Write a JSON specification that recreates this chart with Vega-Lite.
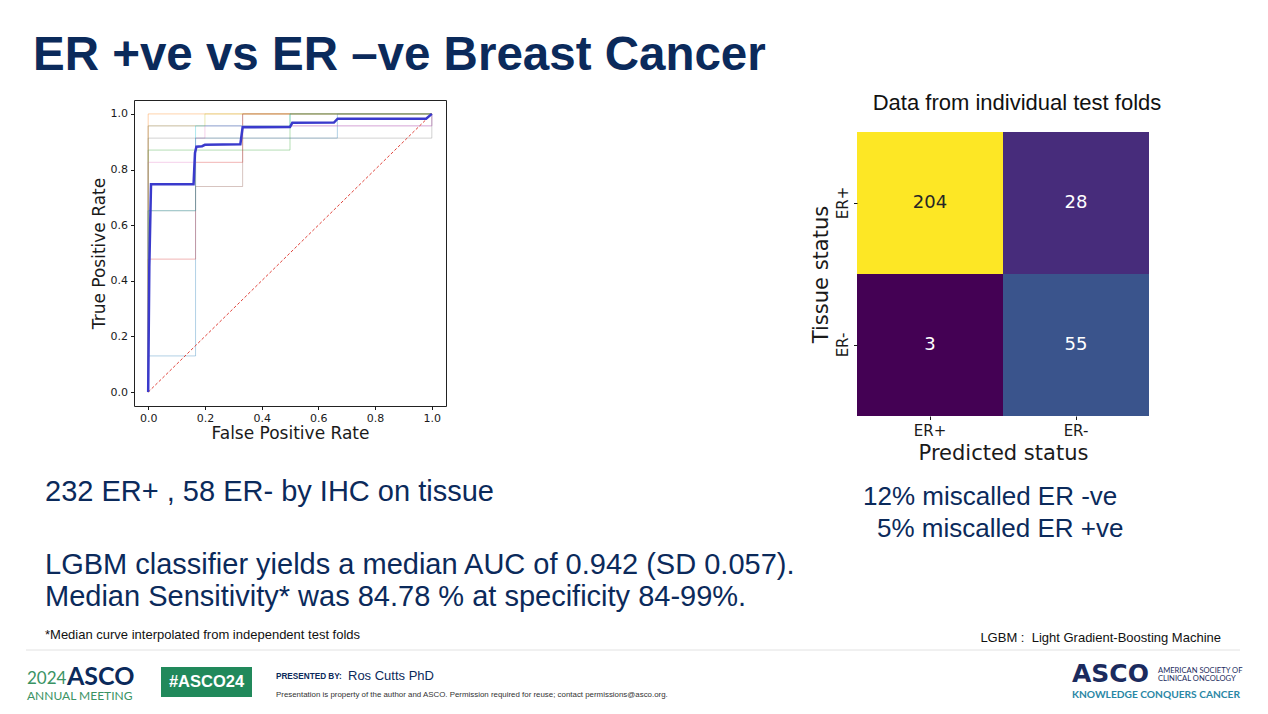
{
  "$schema": "https://vega.github.io/schema/vega-lite/v6.json",
  "padding": {"left": 25, "top": 32, "right": 0, "bottom": 0},
  "background": "white",
  "bounds": "full",
  "spacing": 0,
  "config": {
    "view": {"stroke": null},
    "font": "Liberation Sans",
    "axis": {"labelFont": "DejaVu Sans", "titleFont": "DejaVu Sans", "titleFontWeight": "normal", "labelColor": "#1a1a1a", "titleColor": "#1a1a1a", "tickColor": "#1a1a1a", "grid": false, "domain": false, "tickSize": 3.5, "labelFlush": false, "labelOverlap": false}
  },
  "datasets": {
    "folds": [
      {"fold": 1, "i": 0, "fpr": 0, "tpr": 0}, {"fold": 1, "i": 1, "fpr": 0, "tpr": 0.130}, {"fold": 1, "i": 2, "fpr": 0.167, "tpr": 0.130}, {"fold": 1, "i": 3, "fpr": 0.167, "tpr": 0.913}, {"fold": 1, "i": 4, "fpr": 0.667, "tpr": 0.913}, {"fold": 1, "i": 5, "fpr": 0.667, "tpr": 1}, {"fold": 1, "i": 6, "fpr": 1, "tpr": 1},
      {"fold": 2, "i": 0, "fpr": 0, "tpr": 0}, {"fold": 2, "i": 1, "fpr": 0, "tpr": 1}, {"fold": 2, "i": 2, "fpr": 1, "tpr": 1},
      {"fold": 3, "i": 0, "fpr": 0, "tpr": 0}, {"fold": 3, "i": 1, "fpr": 0, "tpr": 0.870}, {"fold": 3, "i": 2, "fpr": 0.5, "tpr": 0.870}, {"fold": 3, "i": 3, "fpr": 0.5, "tpr": 1}, {"fold": 3, "i": 4, "fpr": 1, "tpr": 1},
      {"fold": 4, "i": 0, "fpr": 0, "tpr": 0}, {"fold": 4, "i": 1, "fpr": 0, "tpr": 0.478}, {"fold": 4, "i": 2, "fpr": 0.167, "tpr": 0.478}, {"fold": 4, "i": 3, "fpr": 0.167, "tpr": 0.826}, {"fold": 4, "i": 4, "fpr": 0.333, "tpr": 0.826}, {"fold": 4, "i": 5, "fpr": 0.333, "tpr": 1}, {"fold": 4, "i": 6, "fpr": 1, "tpr": 1},
      {"fold": 5, "i": 0, "fpr": 0, "tpr": 0}, {"fold": 5, "i": 1, "fpr": 0, "tpr": 0.957}, {"fold": 5, "i": 2, "fpr": 1, "tpr": 0.957}, {"fold": 5, "i": 3, "fpr": 1, "tpr": 1},
      {"fold": 6, "i": 0, "fpr": 0, "tpr": 0}, {"fold": 6, "i": 1, "fpr": 0, "tpr": 0.652}, {"fold": 6, "i": 2, "fpr": 0.167, "tpr": 0.652}, {"fold": 6, "i": 3, "fpr": 0.167, "tpr": 0.739}, {"fold": 6, "i": 4, "fpr": 0.333, "tpr": 0.739}, {"fold": 6, "i": 5, "fpr": 0.333, "tpr": 1}, {"fold": 6, "i": 6, "fpr": 1, "tpr": 1},
      {"fold": 7, "i": 0, "fpr": 0, "tpr": 0}, {"fold": 7, "i": 1, "fpr": 0, "tpr": 0.826}, {"fold": 7, "i": 2, "fpr": 0.167, "tpr": 0.826}, {"fold": 7, "i": 3, "fpr": 0.167, "tpr": 0.913}, {"fold": 7, "i": 4, "fpr": 0.2, "tpr": 0.913}, {"fold": 7, "i": 5, "fpr": 0.2, "tpr": 0.957}, {"fold": 7, "i": 6, "fpr": 1, "tpr": 0.957}, {"fold": 7, "i": 7, "fpr": 1, "tpr": 1},
      {"fold": 8, "i": 0, "fpr": 0, "tpr": 0}, {"fold": 8, "i": 1, "fpr": 0, "tpr": 0.913}, {"fold": 8, "i": 2, "fpr": 1, "tpr": 0.913}, {"fold": 8, "i": 3, "fpr": 1, "tpr": 1},
      {"fold": 9, "i": 0, "fpr": 0, "tpr": 0}, {"fold": 9, "i": 1, "fpr": 0, "tpr": 0.957}, {"fold": 9, "i": 2, "fpr": 0.2, "tpr": 0.957}, {"fold": 9, "i": 3, "fpr": 0.2, "tpr": 1}, {"fold": 9, "i": 4, "fpr": 1, "tpr": 1},
      {"fold": 10, "i": 0, "fpr": 0, "tpr": 0}, {"fold": 10, "i": 1, "fpr": 0, "tpr": 0.652}, {"fold": 10, "i": 2, "fpr": 0.167, "tpr": 0.652}, {"fold": 10, "i": 3, "fpr": 0.167, "tpr": 0.957}, {"fold": 10, "i": 4, "fpr": 0.5, "tpr": 0.957}, {"fold": 10, "i": 5, "fpr": 0.5, "tpr": 1}, {"fold": 10, "i": 6, "fpr": 1, "tpr": 1}
    ],
    "median": [
      {"i": 0, "fpr": 0, "tpr": 0}, {"i": 1, "fpr": 0.004, "tpr": 0.45}, {"i": 2, "fpr": 0.01, "tpr": 0.747}, {"i": 3, "fpr": 0.16, "tpr": 0.747},
      {"i": 4, "fpr": 0.165, "tpr": 0.86}, {"i": 5, "fpr": 0.17, "tpr": 0.882}, {"i": 6, "fpr": 0.19, "tpr": 0.884}, {"i": 7, "fpr": 0.2, "tpr": 0.889},
      {"i": 8, "fpr": 0.325, "tpr": 0.891}, {"i": 9, "fpr": 0.333, "tpr": 0.952}, {"i": 10, "fpr": 0.5, "tpr": 0.953}, {"i": 11, "fpr": 0.508, "tpr": 0.968},
      {"i": 12, "fpr": 0.655, "tpr": 0.969}, {"i": 13, "fpr": 0.668, "tpr": 0.983}, {"i": 14, "fpr": 0.98, "tpr": 0.983}, {"i": 15, "fpr": 1.0, "tpr": 1.0}
    ],
    "chance": [{"fpr": 0, "tpr": 0}, {"fpr": 1, "tpr": 1}],
    "confusion": [
      {"tissue": "ER+", "predicted": "ER+", "n": 204},
      {"tissue": "ER+", "predicted": "ER-", "n": 28},
      {"tissue": "ER-", "predicted": "ER+", "n": 3},
      {"tissue": "ER-", "predicted": "ER-", "n": 55}
    ]
  },
  "vconcat": [
    {
      "hconcat": [
        {"width": 8, "height": 60, "data": {"values": []}, "mark": "point"},
        {"width": 740, "height": 60, "data": {"values": [{"t": "ER +ve vs ER –ve Breast Cancer"}]},
         "mark": {"type": "text", "align": "left", "baseline": "top", "font": "Liberation Sans", "fontWeight": "bold", "fontSize": 47.5, "color": "#0b2a5b"},
         "encoding": {"text": {"field": "t"},
           "x": {"field": "t", "type": "nominal", "scale": {"type": "point", "align": 0}, "axis": null},
           "y": {"field": "t", "type": "nominal", "scale": {"type": "point", "align": 0}, "axis": null}}}
      ],
      "spacing": 0, "bounds": "flush"
    },
    {
      "hconcat": [
        {"width": 109, "height": 1, "data": {"values": []}, "mark": "point"},
        {
          "width": 312, "height": 306,
          "view": {"stroke": "#222", "strokeWidth": 1},
          "encoding": {
            "x": {"field": "fpr", "type": "quantitative", "scale": {"domain": [-0.05, 1.05], "nice": false, "zero": false},
                  "axis": {"title": "False Positive Rate", "values": [0, 0.2, 0.4, 0.6, 0.8, 1.0], "format": ".1f", "labelFontSize": 11, "labelPadding": 3, "titleFontSize": 17, "titlePadding": 2}},
            "y": {"field": "tpr", "type": "quantitative", "scale": {"domain": [-0.05, 1.05], "nice": false, "zero": false},
                  "axis": {"title": "True Positive Rate", "values": [0, 0.2, 0.4, 0.6, 0.8, 1.0], "format": ".1f", "labelFontSize": 11, "labelPadding": 3, "titleFontSize": 17, "titlePadding": 2}}
          },
          "layer": [
            {"data": {"name": "folds"}, "mark": {"type": "line", "strokeWidth": 1, "opacity": 0.35},
             "encoding": {"color": {"field": "fold", "type": "nominal", "scale": {"scheme": "category10"}, "legend": null}, "order": {"field": "i", "type": "quantitative"}}},
            {"data": {"name": "chance"}, "mark": {"type": "line", "color": "#e0443c", "strokeDash": [3, 2], "strokeWidth": 1}, "encoding": {}},
            {"data": {"name": "median"}, "mark": {"type": "line", "color": "#3a3acc", "strokeWidth": 2.5},
             "encoding": {"order": {"field": "i", "type": "quantitative"}}}
          ]
        },
        {"width": 411, "height": 370, "data": {"values": []}, "mark": "point"},
        {
          "vconcat": [
            {"width": 320, "height": 20, "data": {"values": [{"t": "Data from individual test folds"}]},
             "mark": {"type": "text", "align": "center", "baseline": "alphabetic", "font": "Liberation Sans", "fontSize": 22, "color": "#111111"},
             "encoding": {"text": {"field": "t"}}},
            {
              "width": 292, "height": 284,
              "data": {"name": "confusion"},
              "encoding": {
                "x": {"field": "predicted", "type": "nominal", "sort": ["ER+", "ER-"], "scale": {"paddingInner": 0, "paddingOuter": 0},
                      "axis": {"title": "Predicted status", "labelAngle": 0, "labelFontSize": 15, "labelPadding": 3.5, "titleFontSize": 21, "titlePadding": 4}},
                "y": {"field": "tissue", "type": "nominal", "sort": ["ER+", "ER-"], "scale": {"paddingInner": 0, "paddingOuter": 0},
                      "axis": {"title": "Tissue status", "labelAngle": -90, "labelAlign": "center", "labelBaseline": "bottom", "labelFontSize": 15, "labelPadding": 3, "titleFontSize": 21, "titlePadding": 4}}
              },
              "layer": [
                {"mark": {"type": "rect"}, "encoding": {"color": {"field": "n", "type": "quantitative", "scale": {"scheme": "viridis", "zero": false}, "legend": null}}},
                {"mark": {"type": "text", "font": "DejaVu Sans", "fontSize": 18, "baseline": "middle"},
                 "encoding": {"text": {"field": "n", "type": "quantitative"},
                   "color": {"condition": {"test": "datum.n > 150", "value": "#262626"}, "value": "#ffffff"}}}
              ]
            }
          ],
          "spacing": 12, "bounds": "flush"
        }
      ],
      "spacing": 0, "bounds": "flush"
    },
    {
      "hconcat": [
        {"width": 20, "height": 1, "data": {"values": []}, "mark": "point"},
        {"width": 790, "height": 37, "data": {"values": [{"t": "232 ER+ , 58 ER- by IHC on tissue"}]},
         "mark": {"type": "text", "align": "left", "baseline": "bottom", "fontSize": 29, "color": "#0b2a5b"},
         "encoding": {"text": {"field": "t"},
           "x": {"field": "t", "type": "nominal", "scale": {"type": "point", "align": 0}, "axis": null},
           "y": {"field": "t", "type": "nominal", "scale": {"type": "point", "align": 1}, "axis": null}}},
        {"width": 28, "height": 1, "data": {"values": []}, "mark": "point"},
        {"width": 358, "height": 40, "data": {"values": [{"t": "12% miscalled ER -ve"}]},
         "mark": {"type": "text", "align": "left", "baseline": "bottom", "fontSize": 26, "color": "#0b2a5b"},
         "encoding": {"text": {"field": "t"},
           "x": {"field": "t", "type": "nominal", "scale": {"type": "point", "align": 0}, "axis": null},
           "y": {"field": "t", "type": "nominal", "scale": {"type": "point", "align": 1}, "axis": null}}}
      ],
      "spacing": 0, "bounds": "flush"
    },
    {
      "hconcat": [
        {"width": 852, "height": 1, "data": {"values": []}, "mark": "point"},
        {"width": 358, "height": 32, "data": {"values": [{"t": "5% miscalled ER +ve"}]},
         "mark": {"type": "text", "align": "left", "baseline": "bottom", "fontSize": 26, "color": "#0b2a5b"},
         "encoding": {"text": {"field": "t"},
           "x": {"field": "t", "type": "nominal", "scale": {"type": "point", "align": 0}, "axis": null},
           "y": {"field": "t", "type": "nominal", "scale": {"type": "point", "align": 1}, "axis": null}}}
      ],
      "spacing": 0, "bounds": "flush"
    },
    {
      "hconcat": [
        {"width": 20, "height": 1, "data": {"values": []}, "mark": "point"},
        {"width": 790, "height": 38, "data": {"values": [{"t": "LGBM classifier yields a median AUC of 0.942 (SD 0.057)."}]},
         "mark": {"type": "text", "align": "left", "baseline": "bottom", "fontSize": 29, "color": "#0b2a5b"},
         "encoding": {"text": {"field": "t"},
           "x": {"field": "t", "type": "nominal", "scale": {"type": "point", "align": 0}, "axis": null},
           "y": {"field": "t", "type": "nominal", "scale": {"type": "point", "align": 1}, "axis": null}}}
      ],
      "spacing": 0, "bounds": "flush"
    },
    {
      "hconcat": [
        {"width": 20, "height": 1, "data": {"values": []}, "mark": "point"},
        {"width": 790, "height": 32, "data": {"values": [{"t": "Median Sensitivity* was 84.78 % at specificity 84-99%."}]},
         "mark": {"type": "text", "align": "left", "baseline": "bottom", "fontSize": 29, "color": "#0b2a5b"},
         "encoding": {"text": {"field": "t"},
           "x": {"field": "t", "type": "nominal", "scale": {"type": "point", "align": 0}, "axis": null},
           "y": {"field": "t", "type": "nominal", "scale": {"type": "point", "align": 1}, "axis": null}}}
      ],
      "spacing": 0, "bounds": "flush"
    },
    {
      "hconcat": [
        {"width": 20, "height": 1, "data": {"values": []}, "mark": "point"},
        {"width": 790, "height": 30, "data": {"values": [{"t": "*Median curve interpolated from independent test folds"}]},
         "mark": {"type": "text", "align": "left", "baseline": "bottom", "fontSize": 13, "color": "#111111"},
         "encoding": {"text": {"field": "t"},
           "x": {"field": "t", "type": "nominal", "scale": {"type": "point", "align": 0}, "axis": null},
           "y": {"field": "t", "type": "nominal", "scale": {"type": "point", "align": 1}, "axis": null}}},
        {"width": 28, "height": 1, "data": {"values": []}, "mark": "point"},
        {"width": 358, "height": 33, "data": {"values": [{"t": "LGBM :\u00a0 Light Gradient-Boosting Machine"}]},
         "mark": {"type": "text", "align": "right", "baseline": "bottom", "fontSize": 13, "color": "#111111"},
         "encoding": {"text": {"field": "t"},
           "x": {"field": "t", "type": "nominal", "scale": {"type": "point", "align": 1}, "axis": null},
           "y": {"field": "t", "type": "nominal", "scale": {"type": "point", "align": 1}, "axis": null}}}
      ],
      "spacing": 0, "bounds": "flush"
    },
    {
      "hconcat": [
        {"width": 1, "height": 1, "data": {"values": []}, "mark": "point"},
        {"width": 1214, "height": 5, "data": {"values": [{"t": "separator"}]},
         "mark": {"type": "rule", "color": "#e2e2e2", "strokeWidth": 1},
         "encoding": {"y": {"field": "t", "type": "nominal", "scale": {"type": "point", "align": 1}, "axis": null}}}
      ],
      "spacing": 0, "bounds": "flush"
    },
    {
      "hconcat": [
        {"width": 2, "height": 1, "data": {"values": []}, "mark": "point"},
        {
          "vconcat": [
            {
              "hconcat": [
                {"width": 40, "height": 37, "data": {"values": [{"t": "2024"}]},
                 "mark": {"type": "text", "align": "left", "baseline": "bottom", "font": "Lato", "fontSize": 17, "color": "#3a9364"},
                 "encoding": {"text": {"field": "t"},
                   "x": {"field": "t", "type": "nominal", "scale": {"type": "point", "align": 0}, "axis": null},
                   "y": {"field": "t", "type": "nominal", "scale": {"type": "point", "align": 1}, "axis": null}}},
                {"width": 72, "height": 39, "data": {"values": [{"t": "ASCO"}]},
                 "mark": {"type": "text", "align": "left", "baseline": "bottom", "font": "Lato", "fontWeight": "bold", "fontSize": 25, "color": "#0b2a5b"},
                 "encoding": {"text": {"field": "t"},
                   "x": {"field": "t", "type": "nominal", "scale": {"type": "point", "align": 0}, "axis": null},
                   "y": {"field": "t", "type": "nominal", "scale": {"type": "point", "align": 1}, "axis": null}}}
              ],
              "spacing": 0, "bounds": "full"
            },
            {"width": 112, "height": 7, "data": {"values": [{"t": "ANNUAL MEETING"}]},
             "mark": {"type": "text", "align": "left", "baseline": "bottom", "font": "Lato", "fontSize": 12, "color": "#3a9364"},
             "encoding": {"text": {"field": "t"},
               "x": {"field": "t", "type": "nominal", "scale": {"type": "point", "align": 0}, "axis": null},
               "y": {"field": "t", "type": "nominal", "scale": {"type": "point", "align": 1}, "axis": null}}}
          ],
          "spacing": 0, "bounds": "full"
        },
        {"width": 22, "height": 1, "data": {"values": []}, "mark": "point"},
        {
          "vconcat": [
            {"width": 91, "height": 16, "data": {"values": []}, "mark": "point"},
            {"width": 91, "height": 30, "view": {"fill": "#21895b", "stroke": null},
             "data": {"values": [{"t": "#ASCO24"}]},
             "mark": {"type": "text", "align": "center", "baseline": "middle", "fontWeight": "bold", "fontSize": 16.5, "color": "#ffffff"},
             "encoding": {"text": {"field": "t"}}}
          ],
          "spacing": 0, "bounds": "full"
        },
        {"width": 24, "height": 1, "data": {"values": []}, "mark": "point"},
        {
          "vconcat": [
            {
              "hconcat": [
                {"width": 72, "height": 30, "data": {"values": [{"t": "PRESENTED BY:"}]},
                 "mark": {"type": "text", "align": "left", "baseline": "bottom", "fontWeight": "bold", "fontSize": 8.2, "color": "#0b2a5b"},
                 "encoding": {"text": {"field": "t"},
                   "x": {"field": "t", "type": "nominal", "scale": {"type": "point", "align": 0}, "axis": null},
                   "y": {"field": "t", "type": "nominal", "scale": {"type": "point", "align": 1}, "axis": null}}},
                {"width": 120, "height": 32, "data": {"values": [{"t": "Ros Cutts PhD"}]},
                 "mark": {"type": "text", "align": "left", "baseline": "bottom", "fontSize": 13, "color": "#0b2a5b"},
                 "encoding": {"text": {"field": "t"},
                   "x": {"field": "t", "type": "nominal", "scale": {"type": "point", "align": 0}, "axis": null},
                   "y": {"field": "t", "type": "nominal", "scale": {"type": "point", "align": 1}, "axis": null}}}
              ],
              "spacing": 0, "bounds": "full"
            },
            {"width": 400, "height": 16, "data": {"values": [{"t": "Presentation is property of the author and ASCO. Permission required for reuse; contact permissions@asco.org."}]},
             "mark": {"type": "text", "align": "left", "baseline": "bottom", "fontSize": 7.9, "color": "#333333"},
             "encoding": {"text": {"field": "t"},
               "x": {"field": "t", "type": "nominal", "scale": {"type": "point", "align": 0}, "axis": null},
               "y": {"field": "t", "type": "nominal", "scale": {"type": "point", "align": 1}, "axis": null}}}
          ],
          "spacing": 0, "bounds": "full"
        },
        {"width": 396, "height": 1, "data": {"values": []}, "mark": "point"},
        {
          "vconcat": [
            {
              "hconcat": [
                {"width": 86, "height": 36, "data": {"values": [{"t": "ASCO"}]},
                 "mark": {"type": "text", "align": "left", "baseline": "bottom", "font": "DejaVu Sans", "fontWeight": "bold", "fontSize": 25, "color": "#1b2b5e"},
                 "encoding": {"text": {"field": "t"},
                   "x": {"field": "t", "type": "nominal", "scale": {"type": "point", "align": 0}, "axis": null},
                   "y": {"field": "t", "type": "nominal", "scale": {"type": "point", "align": 1}, "axis": null}}},
                {
                  "vconcat": [
                    {"width": 90, "height": 24, "data": {"values": [{"t": "AMERICAN SOCIETY OF"}]},
                     "mark": {"type": "text", "align": "left", "baseline": "bottom", "font": "Lato", "fontSize": 7.6, "color": "#1b2b5e"},
                     "encoding": {"text": {"field": "t"},
                       "x": {"field": "t", "type": "nominal", "scale": {"type": "point", "align": 0}, "axis": null},
                       "y": {"field": "t", "type": "nominal", "scale": {"type": "point", "align": 1}, "axis": null}}},
                    {"width": 90, "height": 8, "data": {"values": [{"t": "CLINICAL ONCOLOGY"}]},
                     "mark": {"type": "text", "align": "left", "baseline": "bottom", "font": "Lato", "fontSize": 7.6, "color": "#1b2b5e"},
                     "encoding": {"text": {"field": "t"},
                       "x": {"field": "t", "type": "nominal", "scale": {"type": "point", "align": 0}, "axis": null},
                       "y": {"field": "t", "type": "nominal", "scale": {"type": "point", "align": 1}, "axis": null}}}
                  ],
                  "spacing": 0, "bounds": "full"
                }
              ],
              "spacing": 0, "bounds": "full"
            },
            {"width": 175, "height": 13, "data": {"values": [{"t": "KNOWLEDGE CONQUERS CANCER"}]},
             "mark": {"type": "text", "align": "left", "baseline": "bottom", "font": "Lato", "fontWeight": "bold", "fontSize": 10.2, "color": "#2a87a5"},
             "encoding": {"text": {"field": "t"},
               "x": {"field": "t", "type": "nominal", "scale": {"type": "point", "align": 0}, "axis": null},
               "y": {"field": "t", "type": "nominal", "scale": {"type": "point", "align": 1}, "axis": null}}}
          ],
          "spacing": 0, "bounds": "full"
        }
      ],
      "spacing": 0, "bounds": "full"
    }
  ]
}
